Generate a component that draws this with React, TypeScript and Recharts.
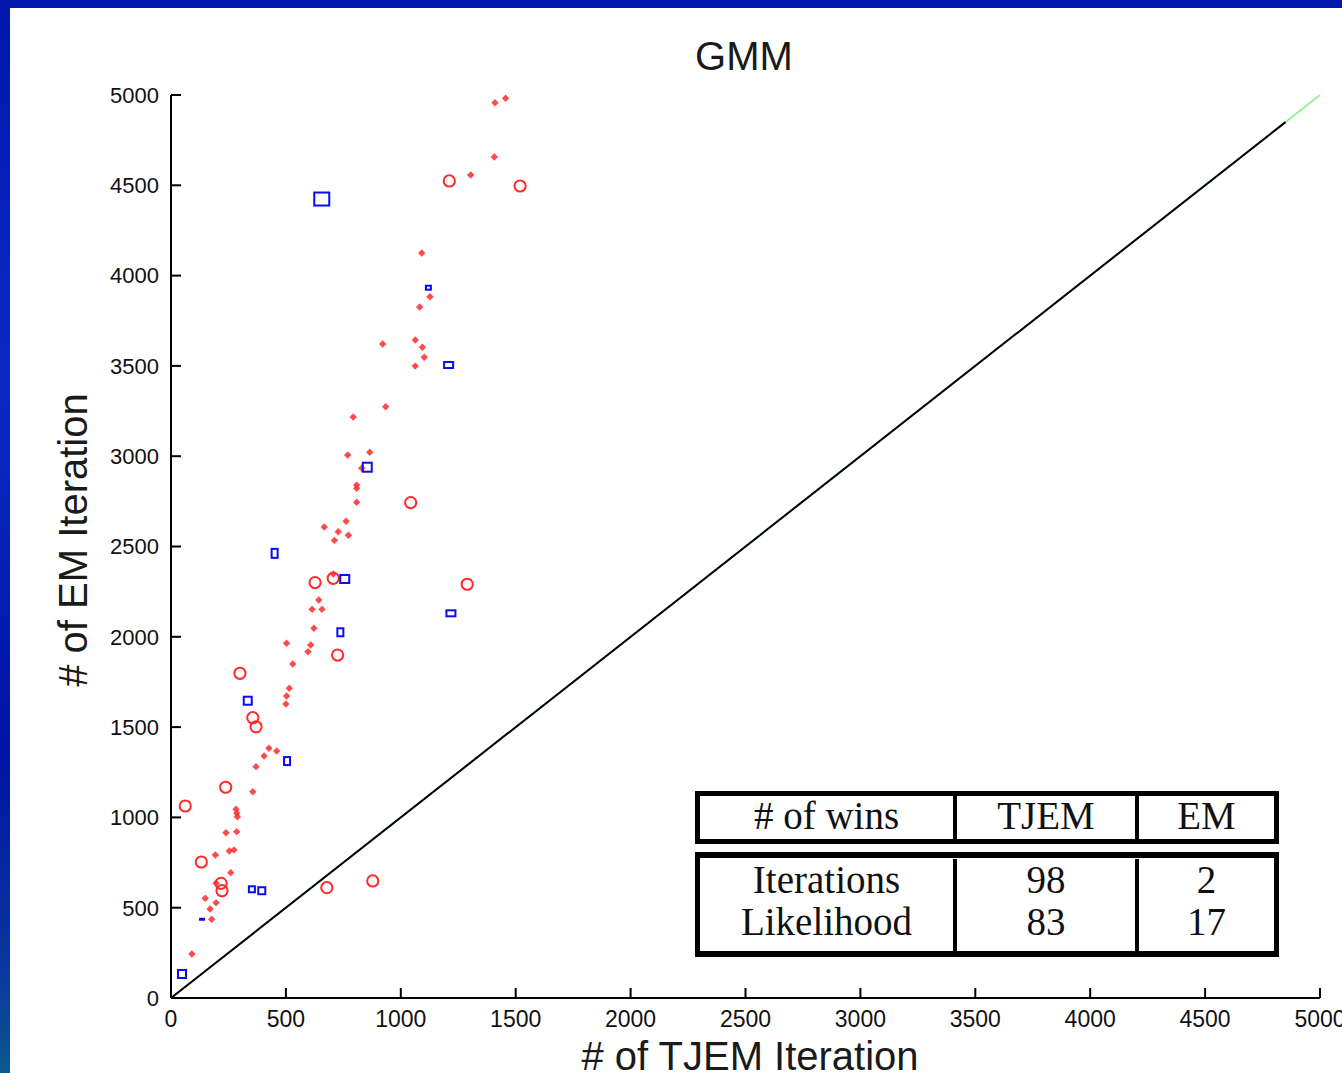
import React from "react"
import { ScatterChart, Scatter, XAxis, YAxis, ReferenceLine } from "recharts"

// axis ticks
const xTicks = [0, 500, 1000, 1500, 2000, 2500, 3000, 3500, 4000, 4500, 5000]
const yTicks = [0, 500, 1000, 1500, 2000, 2500, 3000, 3500, 4000, 4500, 5000]

// [TJEM iterations, EM iterations]
const starPoints: [number, number][] = [
  [1410, 4957], [1456, 4982], [1407, 4657], [1304, 4557], [1091, 4125], [1127, 3883],
  [1082, 3826], [921, 3621], [1063, 3643], [1094, 3603], [1102, 3548], [1063, 3499],
  [934, 3274], [793, 3217], [769, 3007], [865, 3022], [830, 2933], [808, 2840],
  [808, 2822], [808, 2745], [762, 2640], [667, 2608], [728, 2582], [772, 2562],
  [711, 2534], [706, 2348], [643, 2204], [614, 2152], [657, 2152], [622, 2047],
  [503, 1964], [608, 1955], [596, 1917], [530, 1849], [515, 1715], [503, 1672],
  [500, 1628], [426, 1383], [460, 1368], [405, 1340], [370, 1281], [356, 1142],
  [283, 1045], [286, 1023], [289, 1004], [239, 915], [286, 921], [254, 814],
  [274, 820], [193, 792], [260, 694], [196, 635], [149, 552], [196, 528],
  [170, 493], [177, 436], [91, 244],
]

const circlePoints: [number, number][] = [
  [1211, 4524], [1519, 4496], [1043, 2743], [627, 2300], [706, 2324], [1289, 2291],
  [725, 1899], [300, 1798], [356, 1552], [370, 1502], [238, 1167], [62, 1063],
  [132, 753], [218, 635], [222, 594], [678, 611], [878, 648],
]

const squarePoints: [number, number][] = [
  [656, 4424], [1120, 3933], [1208, 3505], [854, 2939], [451, 2462], [756, 2320],
  [1218, 2130], [737, 2025], [334, 1646], [505, 1312], [352, 602], [395, 594],
  [135, 436], [48, 133],
]

// y = x reference, black part stops short of the axis end
const diagonalMax = 5000
const blackDiagonalEnd = 4850

// table
const tableHeader = ["# of wins", "TJEM", "EM"]
const tableRowLabels = ["Iterations", "Likelihood"]
const tjemWins = [98, 83]
const emWins = [2, 17]

// marker box sizes for the squares (outer w, h in px), same order as squarePoints
const squareBox: [number, number][] = [
  [17, 15], [7, 6], [11, 8], [11, 11], [8, 11], [11, 10], [11, 8], [8, 10],
  [10, 10], [8, 10], [8, 8], [9, 9], [6, 3], [10, 10],
]

const SANS = "'Liberation Sans', Arial, Helvetica, sans-serif"
const SERIF = "'Liberation Serif', 'Times New Roman', serif"
const RED = "#ff2b2b"
const BLUE = "#0a0aff"

const toXY = (pts: [number, number][]) => pts.map(([x, y]) => ({ x, y }))

function StarDot(props: any) {
  const { cx, cy } = props
  if (cx == null || cy == null) return null
  const r = 3.7
  return (
    <polygon
      points={`${cx},${cy - r} ${cx + r},${cy} ${cx},${cy + r} ${cx - r},${cy}`}
      fill={RED}
      fillOpacity={0.85}
    />
  )
}

function RingDot(props: any) {
  const { cx, cy } = props
  if (cx == null || cy == null) return null
  return <circle cx={cx} cy={cy} r={5.6} fill="none" stroke={RED} strokeWidth={2} />
}

function BoxDot(props: any) {
  const { cx, cy, payload } = props
  if (cx == null || cy == null) return null
  const w = payload.w
  const h = payload.h
  if (h <= 4) {
    return <rect x={cx - w / 2} y={cy - h / 2} width={w} height={h} fill={BLUE} />
  }
  return (
    <rect
      x={cx - (w - 2) / 2}
      y={cy - (h - 2) / 2}
      width={w - 2}
      height={h - 2}
      fill="none"
      stroke={BLUE}
      strokeWidth={2}
    />
  )
}

function WinsTable() {
  const cell = (w: number, last: boolean): React.CSSProperties => ({
    width: w,
    boxSizing: "border-box",
    borderRight: last ? "none" : "4px solid #000",
    textAlign: "center",
  })
  return (
    <div
      style={{
        position: "absolute",
        left: 695,
        top: 791,
        width: 584,
        fontFamily: SERIF,
        fontSize: 39,
        color: "#111",
      }}
    >
      <div
        style={{
          display: "flex",
          boxSizing: "border-box",
          height: 53,
          border: "5px solid #000",
          lineHeight: "40px",
        }}
      >
        <div style={cell(257, false)}>{tableHeader[0]}</div>
        <div style={cell(182, false)}>{tableHeader[1]}</div>
        <div style={cell(135, true)}>{tableHeader[2]}</div>
      </div>
      <div
        style={{
          display: "flex",
          boxSizing: "border-box",
          height: 105,
          marginTop: 8,
          border: "5px solid #000",
          borderTopWidth: 6,
          borderBottomWidth: 6,
          lineHeight: "42px",
          paddingTop: 1,
        }}
      >
        <div style={cell(257, false)}>
          {tableRowLabels.map((t) => (
            <div key={t}>{t}</div>
          ))}
        </div>
        <div style={cell(182, false)}>
          {tjemWins.map((v, i) => (
            <div key={i}>{v}</div>
          ))}
        </div>
        <div style={cell(135, true)}>
          {emWins.map((v, i) => (
            <div key={i}>{v}</div>
          ))}
        </div>
      </div>
    </div>
  )
}

export default function App() {
  const stars = toXY(starPoints)
  const rings = toXY(circlePoints)
  const boxes = squarePoints.map(([x, y], i) => ({ x, y, w: squareBox[i][0], h: squareBox[i][1] }))

  return (
    <div
      style={{
        position: "absolute",
        left: 0,
        top: 0,
        width: 1342,
        height: 1073,
        overflow: "hidden",
        background: "linear-gradient(180deg, #0016ac 0%, #0a2cc4 35%, #0014a4 70%, #0a3c9c 92%, #0a5a8c 100%)",
      }}
    >
      <div style={{ position: "absolute", left: 10, top: 8, right: 0, bottom: 0, background: "#fff" }} />

      <div
        style={{
          position: "absolute",
          left: 444,
          top: 36,
          width: 600,
          textAlign: "center",
          fontFamily: SANS,
          fontSize: 40,
          lineHeight: "40px",
          color: "#1a1a1a",
        }}
      >
        GMM
      </div>

      <div style={{ position: "absolute", left: 0, top: 0 }}>
        <ScatterChart width={1342} height={1073} margin={{ top: 95, right: 22, bottom: 0, left: 0 }}>
          <XAxis
            type="number"
            dataKey="x"
            domain={[0, 5000]}
            ticks={xTicks}
            interval={0}
            height={75}
            axisLine={{ stroke: "#000", strokeWidth: 2 }}
            tickLine={{ stroke: "#000", strokeWidth: 2 }}
            tickSize={-10}
            tickMargin={23}
            tick={{ fill: "#111", fontSize: 23, fontFamily: SANS }}
          />
          <YAxis
            type="number"
            dataKey="y"
            domain={[0, 5000]}
            ticks={yTicks}
            interval={0}
            width={171}
            axisLine={{ stroke: "#000", strokeWidth: 2 }}
            tickLine={{ stroke: "#000", strokeWidth: 2 }}
            tickSize={-10}
            tickMargin={22}
            tick={{ fill: "#111", fontSize: 22, fontFamily: SANS }}
          />
          <ReferenceLine
            segment={[{ x: 0, y: 0 }, { x: diagonalMax, y: diagonalMax }]}
            stroke="#9af09a"
            strokeWidth={2}
          />
          <ReferenceLine
            segment={[{ x: 0, y: 0 }, { x: blackDiagonalEnd, y: blackDiagonalEnd }]}
            stroke="#000"
            strokeWidth={2}
          />
          <Scatter data={stars} shape={StarDot} isAnimationActive={false} />
          <Scatter data={rings} shape={RingDot} isAnimationActive={false} />
          <Scatter data={boxes} shape={BoxDot} isAnimationActive={false} />
        </ScatterChart>
      </div>

      <div
        style={{
          position: "absolute",
          left: -127,
          top: 520,
          width: 400,
          height: 40,
          textAlign: "center",
          fontFamily: SANS,
          fontSize: 40,
          lineHeight: "40px",
          color: "#1a1a1a",
          transform: "rotate(-90deg)",
        }}
      >
        # of EM Iteration
      </div>

      <div
        style={{
          position: "absolute",
          left: 450,
          top: 1036,
          width: 600,
          textAlign: "center",
          fontFamily: SANS,
          fontSize: 40,
          lineHeight: "40px",
          color: "#1a1a1a",
          whiteSpace: "nowrap",
        }}
      >
        # of TJEM Iteration
      </div>

      <WinsTable />
    </div>
  )
}
